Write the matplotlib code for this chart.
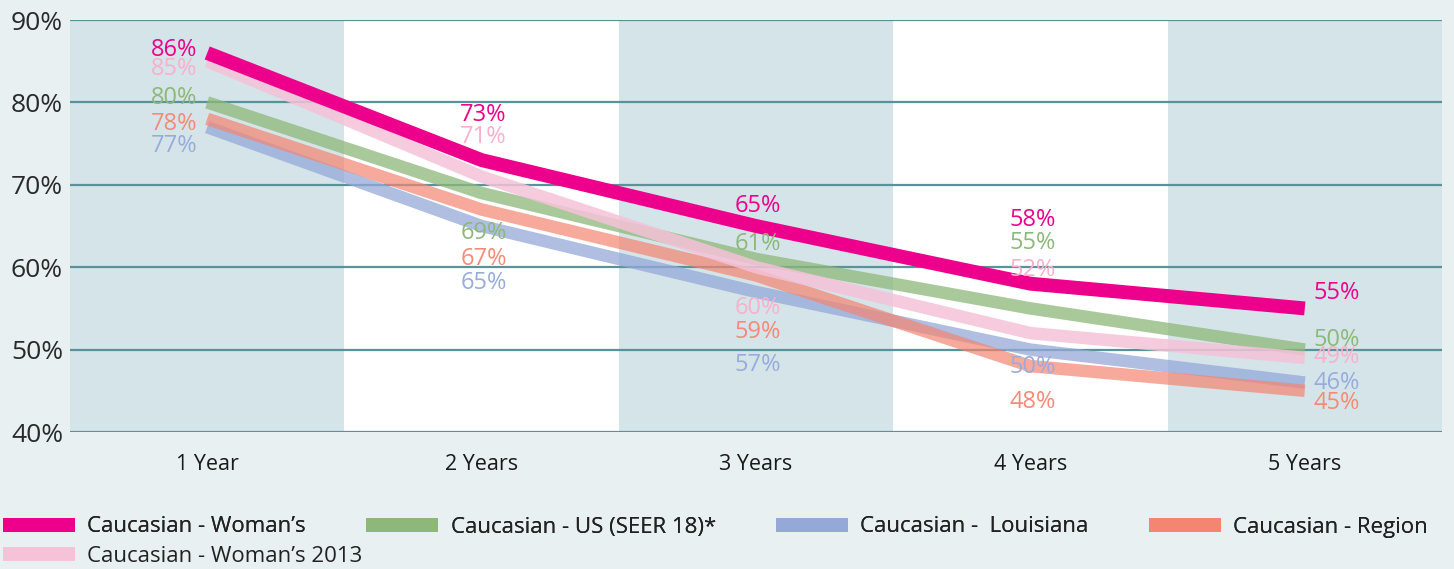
import numpy as np
import matplotlib
matplotlib.use("Agg")
from matplotlib import pyplot as plt
from matplotlib.lines import Line2D

plt.rcParams['font.family'] = ['Open Sans', 'DejaVu Sans']

# data
years = ["1 Year", "2 Years", "3 Years", "4 Years", "5 Years"]
womans = [86, 73, 65, 58, 55]
us_seer = [80, 69, 61, 55, 50]
louisiana = [77, 65, 57, 50, 46]
region = [78, 67, 59, 48, 45]
womans_2013 = [85, 71, 60, 52, 49]
yticks = [40, 50, 60, 70, 80, 90]

names = ["Caucasian - Woman\u2019s", "Caucasian - US (SEER 18)*", "Caucasian -  Louisiana",
         "Caucasian - Region", "Caucasian - Woman\u2019s 2013"]
series = [womans, us_seer, louisiana, region, womans_2013]
line_colors = ["#ec008c", "#8db87a", "#94a9d8", "#f48571", "#f5c2d8"]
label_colors = ["#ec008c", "#8cb87a", "#98acdb", "#f58a78", "#f9b0cd"]
alphas = [1.0, 0.75, 0.75, 0.7, 0.85]
widths = [10, 9, 9, 9, 9]
zorders = [10, 6, 4, 5, 7]

# vertical label offsets in pixels (positive = above the point)
label_dy = [
    [3, 45, 20, 64, 15],
    [4, -40, 15, 65, 10],
    [-19, -57, -73, -17, 0],
    [-5, -49, -57, -36, -12],
    [-8, 40, -41, 63, 1],
]

fig = plt.figure(figsize=(14.54, 5.69), dpi=100)
fig.patch.set_facecolor("#e8f0f2")
ax = fig.add_axes([70 / 1454, 137 / 569, 1372 / 1454, 412 / 569])
ax.set_facecolor("white")

x = np.arange(len(years))
for i in range(0, len(years), 2):
    ax.axvspan(i - 0.5, i + 0.5, color="#d5e4e8", zorder=0, lw=0)

for yv in yticks:
    ax.axhline(yv, color="#5b9299", lw=1.6, zorder=1)

for k, vals in enumerate(series):
    ax.plot(x, vals, color=line_colors[k], lw=widths[k], alpha=alphas[k],
            solid_capstyle="butt", solid_joinstyle="miter", zorder=zorders[k])
    for j, v in enumerate(vals):
        dy = label_dy[k][j]
        if j == 0:
            ha, dx = "right", -10
        elif j == len(vals) - 1:
            ha, dx = "left", 9
        else:
            ha, dx = "center", 2
        ax.annotate(f"{v}%", (x[j], v), xytext=(dx, dy), textcoords="offset pixels",
                    ha=ha, va="center", fontsize=17, color=label_colors[k], zorder=12)

ax.set_xlim(-0.5, len(years) - 0.5)
ax.set_ylim(40, 90)
ax.set_yticks(yticks)
ax.set_yticklabels([f"{v}%" for v in yticks], fontsize=19, color="#2a2a2a")
ax.set_xticks(x)
ax.set_xticklabels(years, fontsize=15.5, color="#1a1a1a")
ax.tick_params(length=0)
ax.tick_params(axis="x", pad=16)
ax.tick_params(axis="y", pad=5)
for s in ax.spines.values():
    s.set_visible(False)

handles = [Line2D([0], [0], color=c, lw=10, solid_capstyle="butt") for c in line_colors]
leg_kw = dict(frameon=False, fontsize=16, handlelength=3.25, handletextpad=0.55,
              columnspacing=2.7, labelcolor="#222222", borderpad=0, borderaxespad=0)
leg1 = fig.legend(handles[:4], names[:4], ncol=4, loc="center left",
                  bbox_to_anchor=(3 / 1454, 1 - 527 / 569), **leg_kw)
fig.add_artist(leg1)
fig.legend(handles[4:], names[4:], ncol=1, loc="center left",
           bbox_to_anchor=(3 / 1454, 1 - 556 / 569), **leg_kw)

fig.savefig("out.png", dpi=100, facecolor=fig.get_facecolor())
